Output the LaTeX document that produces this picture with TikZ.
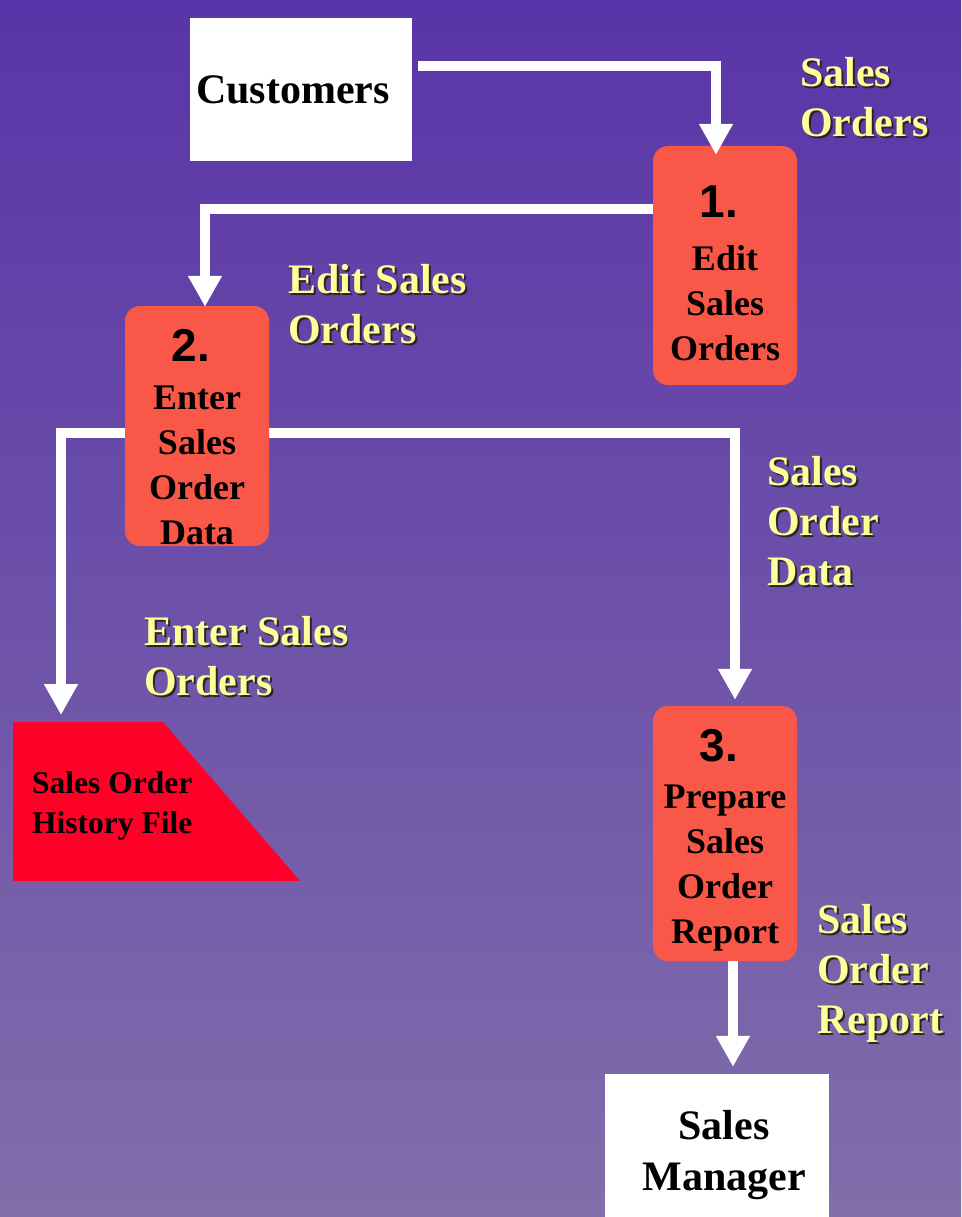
\documentclass[tikz,border=0pt]{standalone}
\usepackage{fontspec}
\setmainfont{Liberation Serif}
\newfontfamily\numfont{Liberation Sans}
\usetikzlibrary{positioning, arrows.meta, backgrounds}
\definecolor{bgtop}{RGB}{89,52,168}
\definecolor{bgbot}{RGB}{129,110,170}
\definecolor{procred}{RGB}{249,88,72}
\definecolor{filered}{RGB}{255,0,40}
\definecolor{lblyellow}{RGB}{255,255,153}
\newcommand{\shd}[1]{\rlap{\kern2pt\raisebox{-2pt}{\color{black!85}#1}}#1}
\newcommand{\stepno}[2]{{\numfont\fontsize{46}{45}\selectfont\rule{0pt}{#1}#2\kern12pt}}

\begin{document}
\begin{tikzpicture}[x=1pt, y=-1pt,
    ext/.style={rectangle, fill=white, text=black, align=center,
                font=\bfseries\fontsize{42}{51}\selectfont},
    proc/.style={rectangle, rounded corners=15pt, fill=procred, minimum width=144pt,
                 inner sep=0pt, align=center, font=\bfseries\fontsize{36}{45}\selectfont},
    lbl/.style={anchor=north west, inner sep=0pt, align=left, text=lblyellow,
                font=\bfseries\fontsize{42}{50}\selectfont},
    flow/.style={draw=white, line width=10pt, -{Triangle[width=32pt, length=31pt]}}
]
\useasboundingbox (0,0) rectangle (961,1217);

% External entities
\node[ext, minimum width=222pt, minimum height=143pt] (cust) at (301,89.5) {Customers\hspace*{16pt}};
\node[ext, minimum width=224pt, minimum height=162pt] (mgr) at (717,1155) {\hspace*{14pt}Sales\\\hspace*{14pt}Manager};

% Processes
\node[proc, minimum height=239pt] (p1) at (725,265.5) {\stepno{47pt}{1.}\\[8pt]Edit\\Sales\\Orders};
\node[proc, minimum height=240pt] (p2) at (197,426) {\stepno{55pt}{2.}\\[3pt]Enter\\Sales\\Order\\Data};
\node[proc, minimum height=255pt] (p3) at (725,833.5) {\stepno{45pt}{3.}\\[2pt]Prepare\\Sales\\Order\\Report};

% Data store
\fill[filered] (13,722) -- (163,722) -- (300,881) -- (13,881) -- cycle;
\node[anchor=north west, inner sep=0pt, align=left, font=\bfseries\fontsize{31.5}{40}\selectfont] (hist) at (32,771) {Sales Order\\History File};
\coordinate (histin) at (61,715);

% Flow labels
\node[lbl] (lblorders) at (800,57) {\shd{Sales}\\\shd{Orders}};
\node[lbl] (lbledit) at (288,264) {\shd{Edit Sales}\\\shd{Orders}};
\node[lbl] (lbldata) at (767,456) {\shd{Sales}\\\shd{Order}\\\shd{Data}};
\node[lbl] (lblenter) at (144,616) {\shd{Enter Sales}\\\shd{Orders}};
\node[lbl] (lblreport) at (817,904) {\shd{Sales}\\\shd{Order}\\\shd{Report}};

% Flows
\draw[flow] ([xshift=6pt, yshift=23.5pt]cust.east) -| ([xshift=-9pt, yshift=-9pt]p1.north);
\draw[flow] ([yshift=56.5pt]p1.west) -| ([xshift=8pt, yshift=-1pt]p2.north);
\draw[flow] ([xshift=8pt]p3.south) -- ([xshift=16pt, yshift=7pt]mgr.north);

\begin{scope}[on background layer]
\shade[top color=bgtop, bottom color=bgbot] (0,0) rectangle (961,1217);
\draw[flow] ([yshift=-7pt]p2.center) -| (histin);
\draw[flow] ([yshift=-7pt]p2.center) -| ([xshift=10pt, yshift=6pt]p3.north);
\end{scope}

\end{tikzpicture}
\end{document}
